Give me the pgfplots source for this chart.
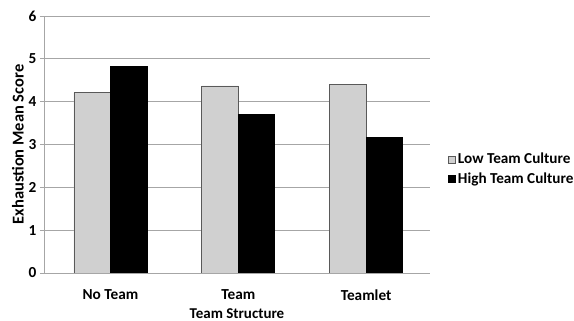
\documentclass[border=0pt]{standalone}
\usepackage{pgfplots}
\pgfplotsset{compat=1.18}
\usepackage{fontspec}
\setmainfont{Carlito}
\definecolor{lowgray}{HTML}{D0D0D0}
\definecolor{gridgray}{HTML}{A6A6A6}
\begin{document}
\begin{tikzpicture}[x=1pt,y=1pt]
\useasboundingbox (-44,-48) rectangle (530,273);
\begin{axis}[
  at={(0,0)}, anchor=south west,
  scale only axis, width=386pt, height=257pt,
  xmin=-0.52, xmax=2.5, ymin=0, ymax=6,
  ybar=0pt, bar width=36.5pt,
  xtick={0,1,2}, xticklabels={No Team, Team, Teamlet},
  ytick={0,1,2,3,4,5,6},
  ymajorgrids, grid style={gridgray, line width=0.8pt},
  axis x line*=bottom, axis y line*=left,
  axis line style={gridgray, line width=0.8pt, -},
  x axis line style={-},
  y axis line style={-},
  xtick style={draw=none},
  ytick style={gridgray, line width=0.8pt},
  tick align=outside, major tick length=4pt,
  /pgf/number format/assume math mode=true,
  ticklabel style={font=\fontsize{15.3}{17}\selectfont\bfseries},
  xticklabel style={yshift=-9pt},
  yticklabel style={xshift=0pt},
  ylabel={Exhaustion Mean Score},
  ylabel style={font=\fontsize{16.5}{19}\selectfont\bfseries, yshift=-2pt},
  xlabel={Team Structure},
  xlabel style={font=\fontsize{15}{17}\selectfont\bfseries, yshift=-1.5pt},
  legend style={draw=none, fill=none, at={(1.038,0.405)}, anchor=west,
    font=\fontsize{15.2}{17}\selectfont\bfseries, row sep=3pt,
    legend cell align=left},
  legend image code/.code={\draw[#1] (0pt,-3.5pt) rectangle (7.5pt,3.5pt);},
]
\addplot[fill=lowgray, draw=gray!70!black, line width=0.6pt] coordinates {(0,4.21) (1,4.37) (2,4.40)};
\addplot[fill=black, draw=black, line width=0.6pt] coordinates {(0,4.83) (1,3.70) (2,3.17)};
\legend{Low Team Culture, High Team Culture}
\end{axis}
\end{tikzpicture}
\end{document}
